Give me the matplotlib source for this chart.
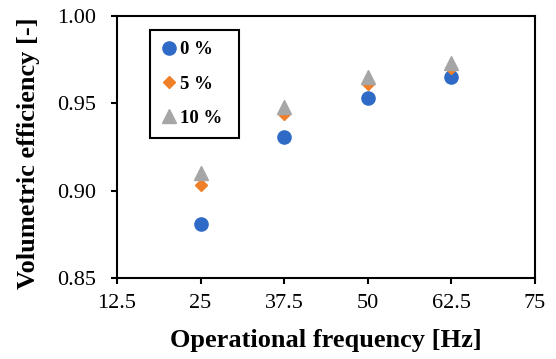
import matplotlib
matplotlib.use("Agg")
import matplotlib.pyplot as plt
from matplotlib.ticker import FixedLocator, FormatStrFormatter

plt.rcParams['font.family'] = ['Liberation Serif', 'DejaVu Serif']

freq = [25, 37.5, 50, 62.5]
eff_0 = [0.881, 0.931, 0.953, 0.965]
eff_5 = [0.903, 0.944, 0.961, 0.970]
eff_10 = [0.910, 0.948, 0.965, 0.973]
labels = ['0 %', '5 %', '10 %']
xticks = [12.5, 25, 37.5, 50, 62.5, 75]
xtick_labels = ['12.5', '25', '37.5', '50', '62.5', '75']
yticks = [0.85, 0.90, 0.95, 1.00]

fig = plt.figure(figsize=(5.56, 3.59), dpi=100)
ax = fig.add_axes([0.2104, 0.2256, 0.9622 - 0.2104, 0.9554 - 0.2256])

ax.plot(freq, eff_0, linestyle='none', marker='o', ms=9.5, color='#2F6BC6', label=labels[0])
ax.plot(freq, eff_5, linestyle='none', marker='D', ms=6.5, color='#F07F2A', label=labels[1])
ax.plot(freq, eff_10, linestyle='none', marker='^', ms=9.5, color='#A6A6A6', label=labels[2])

ax.set_xlim(12.5, 75)
ax.set_ylim(0.85, 1.00)
ax.xaxis.set_major_locator(FixedLocator(xticks))
ax.set_xticklabels(xtick_labels)
ax.yaxis.set_major_locator(FixedLocator(yticks))
ax.yaxis.set_major_formatter(FormatStrFormatter('%.2f'))
ax.tick_params(direction='out', length=4.5, width=1.5, labelsize=16)
ax.tick_params(axis='y', pad=10.5)
ax.tick_params(axis='x', pad=7)
for s in ax.spines.values():
    s.set_linewidth(1.5)
    s.set_color('black')

ax.set_xlabel('Operational frequency [Hz]', fontsize=19, fontweight='bold')
ax.set_ylabel('Volumetric efficiency [-]', fontsize=19, fontweight='bold')
ax.xaxis.set_label_coords(0.5, -0.195)
ax.yaxis.set_label_coords(-0.185, 0.475)

leg = ax.legend(loc='upper left', bbox_to_anchor=(0.079, 0.947, 0.213, 0.0),
                mode='expand', borderaxespad=0,
                frameon=True, fancybox=False, edgecolor='black', framealpha=1,
                prop={'family': 'Liberation Serif', 'weight': 'bold', 'size': 13.5},
                handlelength=0.8, handletextpad=0.2, labelspacing=0.92, borderpad=0.6)
leg.get_frame().set_linewidth(1.5)

fig.savefig('out.png', dpi=100)
